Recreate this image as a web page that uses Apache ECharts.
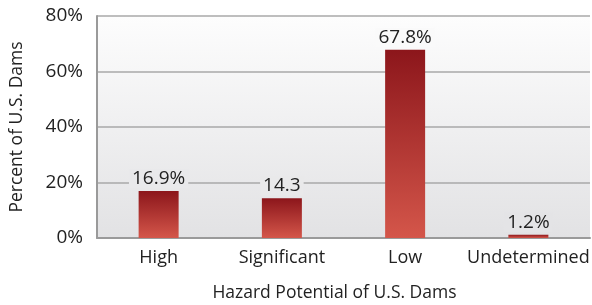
<!DOCTYPE html>
<html><head><meta charset="utf-8">
<script src="https://cdn.jsdelivr.net/npm/echarts@6/dist/echarts.min.js"></script>
<style>html,body{margin:0;padding:0;background:#fff}#c{width:592px;height:305px}</style>
</head><body><div id="c"></div>
<script>
var categories = ['High', 'Significant', 'Low', 'Undetermined'];
var values = [16.9, 14.3, 67.8, 1.2];
var labelTexts = ['16.9%', '14.3', '67.8%', '1.2%'];
var yTicks = [0, 20, 40, 60, 80];

function bgAt(v) {
  var t = Math.min(v / 80, 1);
  var c0 = [226, 226, 228], c1 = [252, 252, 252];
  var c = c0.map(function (a, i) { return Math.round(a + (c1[i] - a) * t); });
  return 'rgb(' + c.join(',') + ')';
}

var chart = echarts.init(document.getElementById('c'));
var font = '"Open Sans", sans-serif';
chart.setOption({
  animation: false,
  grid: {
    left: 97, right: 2, top: 16, bottom: 67,
    outerBoundsMode: 'none', containLabel: false,
    show: true, borderWidth: 0,
    backgroundColor: new echarts.graphic.LinearGradient(0, 0, 0, 1, [
      { offset: 0, color: '#fdfdfd' }, { offset: 1, color: '#e2e2e4' }
    ])
  },
  xAxis: {
    type: 'category', data: categories,
    name: 'Hazard Potential of U.S. Dams', nameLocation: 'middle', nameGap: 46,
    nameTextStyle: { fontFamily: font, fontSize: 17.5, color: '#222', padding: [0, 18, 0, 0] },
    axisLine: { lineStyle: { color: '#9a9a9a', width: 2 } },
    axisTick: { show: false },
    axisLabel: { interval: 0, fontFamily: font, fontSize: 18, color: '#222', margin: 11 }
  },
  yAxis: {
    type: 'value', min: yTicks[0], max: yTicks[yTicks.length - 1], interval: 20,
    name: 'Percent of U.S. Dams', nameLocation: 'middle', nameGap: 71,
    nameTextStyle: { fontFamily: font, fontSize: 17.5, color: '#222' },
    axisLine: { show: true, lineStyle: { color: '#9a9a9a', width: 2 } },
    axisTick: { show: false },
    splitLine: { lineStyle: { color: '#a8a8a8', width: 1.5 } },
    axisLabel: { fontFamily: font, fontSize: 19, color: '#222', margin: 14, formatter: '{value}%' }
  },
  series: [{
    type: 'bar', barWidth: 40,
    data: values.map(function (v, i) {
      return {
        value: v,
        label: { formatter: labelTexts[i], backgroundColor: bgAt(v + 6) }
      };
    }),
    itemStyle: {
      color: new echarts.graphic.LinearGradient(0, 0, 0, 1, [
        { offset: 0, color: '#8c161b' }, { offset: 1, color: '#d4564a' }
      ])
    },
    label: {
      show: true, position: 'top', distance: 3,
      fontFamily: font, fontSize: 19, color: '#222', padding: [0, 3]
    }
  }]
});
</script></body></html>
